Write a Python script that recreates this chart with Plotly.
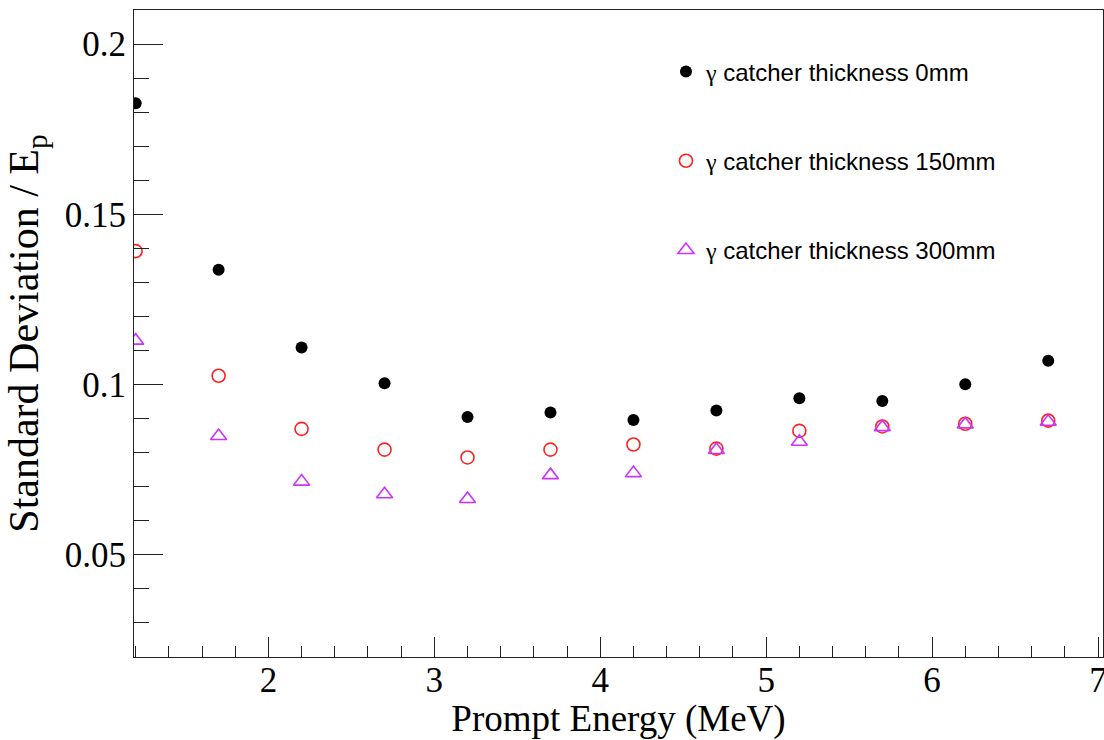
import plotly.graph_objects as go

# Prompt energy bins (MeV)
energy = [1.2, 1.7, 2.2, 2.7, 3.2, 3.7, 4.2, 4.7, 5.2, 5.7, 6.2, 6.7]

# Relative resolution (sigma / E_p) for each gamma-catcher thickness
sigma_0mm = [0.1826, 0.1337, 0.1109, 0.1004, 0.0905, 0.0918,
             0.0896, 0.0924, 0.0960, 0.0952, 0.1001, 0.1070]
sigma_150mm = [0.1392, 0.1026, 0.0870, 0.0809, 0.0786, 0.0809,
               0.0824, 0.0812, 0.0864, 0.0877, 0.0885, 0.0894]
sigma_300mm = [0.1129, 0.0849, 0.0715, 0.0678, 0.0664, 0.0734,
               0.0740, 0.0808, 0.0832, 0.0875, 0.0883, 0.0891]

thickness_labels = ["0mm", "150mm", "300mm"]

x_ticks = [2, 3, 4, 5, 6, 7]
y_ticks = [0.05, 0.1, 0.15, 0.2]
y_tick_text = ["0.05", "0.1", "0.15", "0.2"]

# gamma symbol set in a serif face, rest of the label in sans
GAMMA = '<span style="font-family:Liberation Serif">γ</span>'
series_names = [f"{GAMMA} catcher thickness {t}" for t in thickness_labels]

fig = go.Figure()

fig.add_trace(go.Scatter(
    x=energy, y=sigma_0mm, mode="markers", name=series_names[0],
    legendgroup="g0",
    marker=dict(symbol="circle", size=12, color="black",
                line=dict(width=0)),
))
fig.add_trace(go.Scatter(
    x=energy, y=sigma_150mm, mode="markers", name=series_names[1],
    legendgroup="g1",
    marker=dict(symbol="circle-open", size=13, color="#ff2020",
                line=dict(width=1.6, color="#ff2020")),
))
fig.add_trace(go.Scatter(
    x=energy, y=sigma_300mm, mode="markers", name=series_names[2],
    legendgroup="g2",
    marker=dict(symbol="triangle-up-open", size=14, color="#cc33ff",
                line=dict(width=1.6, color="#cc33ff")),
))

axis_common = dict(
    showgrid=False, zeroline=False,
    showline=True, linecolor="#222", linewidth=1.2, mirror=True,
    ticks="inside", tickcolor="#222", tickwidth=1.2,
    ticklabeloverflow="allow",
    tickfont=dict(family="Liberation Serif", size=35, color="black"),
)

fig.update_xaxes(
    **axis_common,
    range=[1.19, 7.03],
    tickvals=x_ticks, ticklen=20,
    ticklabelstandoff=-8,
    minor=dict(dtick=0.2, tick0=0, ticks="inside", ticklen=11,
               tickcolor="#222", tickwidth=1.2, showgrid=False),
    title=dict(text="Prompt Energy (MeV)", standoff=4,
               font=dict(family="Liberation Serif", size=37, color="black")),
)
fig.update_yaxes(
    **axis_common,
    range=[0.02, 0.21],
    tickvals=y_ticks, ticktext=y_tick_text, ticklen=29,
    minor=dict(dtick=0.01, tick0=0, ticks="inside", ticklen=15,
               tickcolor="#222", tickwidth=1.2, showgrid=False),
    title=dict(text="Standard Deviation / E<sub>p</sub>", standoff=12,
               font=dict(family="Liberation Serif", size=42, color="black")),
)

fig.update_layout(
    width=1104, height=740,
    margin=dict(l=134, r=1, t=10, b=83, autoexpand=False),
    paper_bgcolor="white", plot_bgcolor="white",
    showlegend=True,
    legend=dict(
        x=0.549, y=0.939, xanchor="left", yanchor="top",
        bgcolor="rgba(0,0,0,0)", borderwidth=0,
        tracegroupgap=55,
        font=dict(family="Liberation Sans", size=24, color="black"),
    ),
)

fig.write_html("out.html")
